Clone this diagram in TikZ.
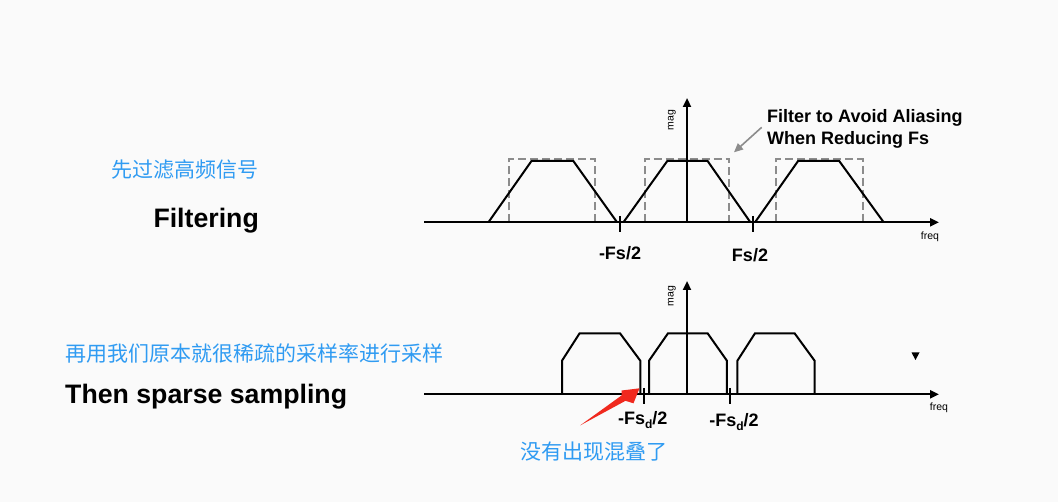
\documentclass[tikz,border=0pt]{standalone}
\usepackage{fontspec}
\setmainfont{Liberation Sans}
\newfontfamily\cjk{Noto Sans CJK SC}
\usetikzlibrary{arrows.meta}
\definecolor{bg}{HTML}{FAFAFA}
\definecolor{cjkblue}{HTML}{2F9BF2}
\definecolor{dashgray}{HTML}{8C8C8C}
\definecolor{callred}{HTML}{F0291E}
\begin{document}
\begin{tikzpicture}[x=1pt,y=-1pt,
  axis/.style={line width=2.2pt,-{Triangle[length=9pt,width=8pt]}},
  spec/.style={line width=2pt,line join=miter},
  filt/.style={draw=dashgray,line width=2pt,dash pattern=on 8pt off 4pt},
  tickmark/.style={line width=2pt},
  lbl/.style={font=\fontsize{18}{20}\selectfont\bfseries,inner sep=0pt},
  small/.style={font=\fontsize{10.5}{12}\selectfont,inner sep=0pt},
  note/.style={font=\fontsize{18}{20}\selectfont\bfseries,inner sep=0pt,anchor=base west},
  cn/.style={font=\cjk\fontsize{21}{24}\selectfont,text=cjkblue,inner sep=0pt},
  title/.style={font=\fontsize{26.7}{30}\selectfont\bfseries,inner sep=0pt,anchor=base west}]
\fill[bg] (0,0) rectangle (1058,502);
\useasboundingbox (0,0) rectangle (1058,502);

% ---------- left texts ----------
\node[cn,anchor=west] (cn1) at (111.7,170) {先过滤高频信号};
\node[title] (filtering) at (153.3,227.3) {Filtering};
\node[cn,anchor=west] (cn2) at (65,353.3) {再用我们原本就很稀疏的采样率进行采样};
\node[title] (sparse) at (65,403.3) {Then sparse sampling};

% ---------- top plot ----------
\coordinate (t0) at (424,222.3);
\coordinate (t1) at (939,222.3);
\coordinate (ty0) at (687,222.3);
\coordinate (ty1) at (687,98);
% dashed filter boxes
\draw[filt] (509.4,222.3) -- (509.4,159.3) -- (595.4,159.3) -- (595.4,222.3);
\draw[filt] (644.5,222.3) -- (644.5,159.3) -- (729.4,159.3) -- (729.4,222.3);
\draw[filt] (776,222.3) -- (776,159.3) -- (862.6,159.3) -- (862.6,222.3);
% spectra
\draw[spec] (488.4,222.3) -- (531.5,161) -- (573.3,161) -- (617.1,222.3);
\draw[spec] (623.4,222.3) -- (667.3,161) -- (707.6,161) -- (750.4,222.3);
\draw[spec] (755,222.3) -- (798.1,161) -- (839.2,161) -- (883.7,222.3);
\draw[axis] (t0) -- (t1);
\draw[axis] (ty0) -- (ty1);
\draw[tickmark] (620,216) -- (620,232);
\draw[tickmark] (752.5,216) -- (752.5,232);
\node[small,rotate=90] (mag1) at (672,120) {mag};
\node[small] (freq1) at (930,237) {freq};
\node[lbl] (fsn) at (620,253) {-Fs/2};
\node[lbl] (fsp) at (750,255) {Fs/2};
\node[note] (flt1) at (767,122.7) {Filter to Avoid Aliasing};
\node[note] (flt2) at (767,144.3) {When Reducing Fs};
\coordinate (ga0) at (761.7,127.3);
\coordinate (ga1) at (734,152.3);
\draw[dashgray,line width=1.6pt,-{Triangle[length=9pt,width=8pt]}] (ga0) -- (ga1);

% ---------- bottom plot ----------
\coordinate (b0) at (424,394.3);
\coordinate (b1) at (939,394.3);
\coordinate (by0) at (687,394.3);
\coordinate (by1) at (687,281);
\draw[spec] (562,394.3) -- (562,360.7) -- (579.6,333.3) -- (620,333.3) -- (640.3,360.7) -- (640.3,394.3);
\draw[spec] (649,394.3) -- (649,360.7) -- (668,333.3) -- (707.6,333.3) -- (726.9,360.7) -- (726.9,394.3);
\draw[spec] (737.4,394.3) -- (737.4,360.7) -- (755,333.3) -- (794.6,333.3) -- (814.6,360.7) -- (814.6,394.3);
\draw[axis] (b0) -- (b1);
\draw[axis] (by0) -- (by1);
\draw[tickmark] (643.8,388) -- (643.8,404);
\draw[tickmark] (730.4,388) -- (730.4,404);
\node[small,rotate=90] (mag2) at (672,296) {mag};
\node[small] (freq2) at (939,408) {freq};
\node[lbl] (fsd1) at (642.7,420) {-Fs\raisebox{-4pt}{\fontsize{12}{12}\selectfont d}/2};
\node[lbl] (fsd2) at (734,421.7) {-Fs\raisebox{-4pt}{\fontsize{12}{12}\selectfont d}/2};
\fill (911.5,352.5) -- (919.5,352.5) -- (915.5,360) -- cycle;

% red callout arrow
\coordinate (ra0) at (580,425.5);
\coordinate (ra1) at (639.5,388.3);
\fill[callred] (ra0) -- (625.5,400.8) -- (633.5,403.3) -- (ra1) -- (621.7,390.5) -- (621.5,395.5) -- cycle;
\node[cn] (cn3) at (593.6,451.7) {没有出现混叠了};
\end{tikzpicture}
\end{document}
